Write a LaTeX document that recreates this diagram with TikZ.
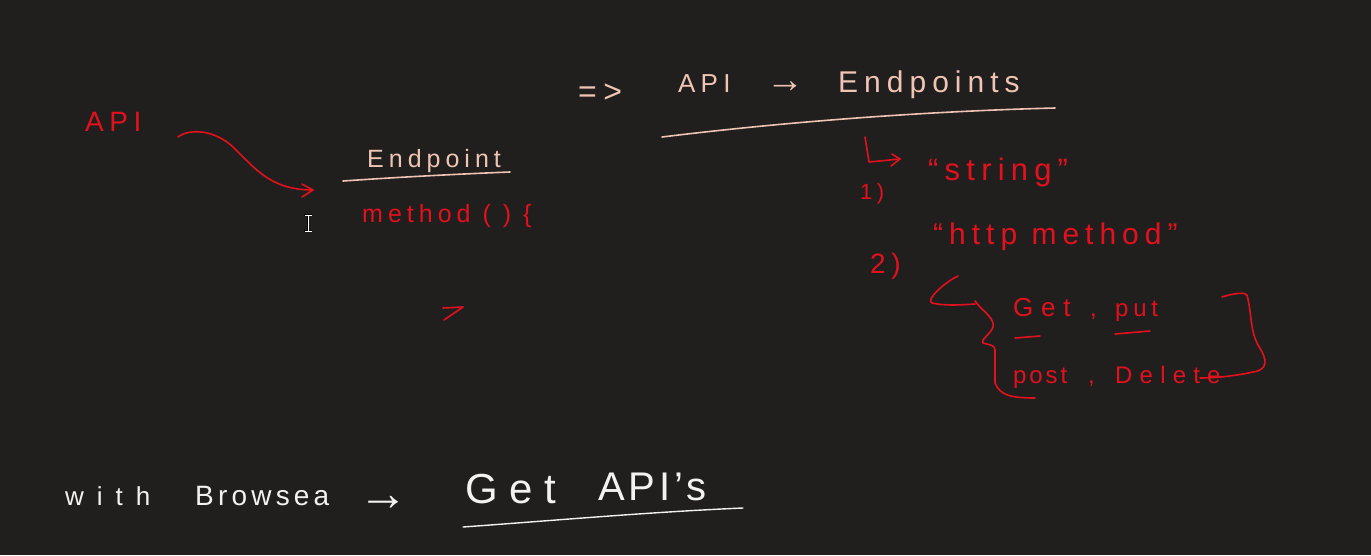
\documentclass[tikz,border=0pt]{standalone}
\usepackage{fontspec}
\setmainfont{Liberation Sans}
\newfontfamily\hand{Liberation Sans}[LetterSpace=20]
\newcommand{\ls}[1]{\addfontfeature{LetterSpace=#1}}
\definecolor{bg}{HTML}{201F1E}
\definecolor{ink}{HTML}{E3101E}
\definecolor{peach}{HTML}{F0C4B4}
\definecolor{chalk}{HTML}{F2F2F2}
\begin{document}
\begin{tikzpicture}[x=1pt,y=-1pt,
  txt/.style={anchor=base west,inner sep=0pt,font=\hand\fontsize{#1}{#1}\selectfont},
  redtxt/.style={txt=#1,text=ink},
  peachtxt/.style={txt=#1,text=peach},
  chalktxt/.style={txt=#1,text=chalk},
  redline/.style={draw=ink,line width=1.6pt,line cap=round,line join=round},
  peachline/.style={draw=peach,line width=1.6pt,line cap=round,line join=round},
  chalkline/.style={draw=chalk,line width=1.4pt,line cap=round,line join=round}
]
\fill[bg] (0,0) rectangle (1371,555);
\useasboundingbox (0,0) rectangle (1371,555);

% left part
\node[redtxt=28] (api1) at (85,131) {API};
\node[peachtxt=25] (ep) at (367,167) {Endpoint};
\node[redtxt=25] (meth) at (362,222) {method ( ) \{};
\coordinate (c1) at (178,137);
\coordinate (c2) at (313,190);
\draw[redline] (c1) .. controls (190,128) and (215,130) .. (233,147)
  .. controls (255,168) and (270,190) .. (c2);
\draw[redline] (302,184) -- (c2) -- (302,197);
\draw[peachline] (343,181) .. controls (400,177) and (460,174) .. (510,172);
\draw[redline] (443,308) -- (463,307) -- (444,320);

% cursor
\draw[black,line width=2.6pt] (308,215) -- (308,231) (304,215) -- (312,215) (304,231) -- (312,231);
\draw[white,line width=1pt] (308,215) -- (308,231) (304.5,215) -- (311.5,215) (304.5,231) -- (311.5,231);

% top right
\node[peachtxt=32] (imp) at (578,102) {=>};
\node[peachtxt=26] (api2) at (678,92) {API};
\node[peachtxt=38] (arr2) at (766,92) {\ls{0}→};
\node[peachtxt=30] (eps) at (838,92) {Endpoints};
\draw[peachline] (662,137) .. controls (760,125) and (900,112) .. (1055,108);

% list
\coordinate (l1) at (865,137);
\coordinate (l2) at (900,159);
\draw[redline] (l1) -- (869,162) -- (l2);
\draw[redline] (892,154) -- (l2) -- (891,166);
\node[redtxt=22] (one) at (860,199) {1)};
\node[redtxt=31] (str) at (928,180) {“string”};
\node[redtxt=28] (two) at (870,273) {2)};
\node[redtxt=30] (http) at (933,244) {“http method”};
\node[redtxt=26] (get) at (1013,316) {\ls{30}Get};
\node[redtxt=24] (cm1) at (1090,316) {,};
\node[redtxt=24] (put) at (1115,316) {put};
\node[redtxt=24] (post) at (1013,383) {\ls{12}post};
\node[redtxt=24] (cm2) at (1088,383) {,};
\node[redtxt=24] (del) at (1115,383) {\ls{30}Delete};
\draw[redline] (1015,338) -- (1040,336);
\draw[redline] (1115,334) -- (1150,331);
% left brace
\draw[redline] (958,276) .. controls (945,282) and (925,300) .. (932,303)
  .. controls (945,306) and (960,305) .. (975,304);
\draw[redline] (975,301) -- (980,307) .. controls (985,312) and (995,320) .. (993,327)
  .. controls (990,335) and (980,340) .. (983,343) .. controls (990,345) and (995,345) .. (995,350)
  -- (995,383) .. controls (1000,395) and (1010,398) .. (1035,398);
% right bracket
\draw[redline] (1222,297) .. controls (1235,293) and (1245,292) .. (1247,295)
  .. controls (1252,315) and (1250,330) .. (1258,345)
  .. controls (1268,360) and (1268,370) .. (1253,372)
  .. controls (1235,376) and (1215,378) .. (1200,378);

% bottom
\node[chalktxt=26] (with) at (65,505) {\ls{50}with};
\node[chalktxt=28] (brow) at (195,505) {\ls{15}Browsea};
\node[chalktxt=50] (arr3) at (358,510) {\ls{0}→};
\node[chalktxt=42] (gget) at (465,503) {\ls{28}Get};
\node[chalktxt=40] (gapi) at (598,500) {\ls{10}API’s};
\draw[chalkline] (463,527) .. controls (560,520) and (650,512) .. (743,508);
\end{tikzpicture}
\end{document}
